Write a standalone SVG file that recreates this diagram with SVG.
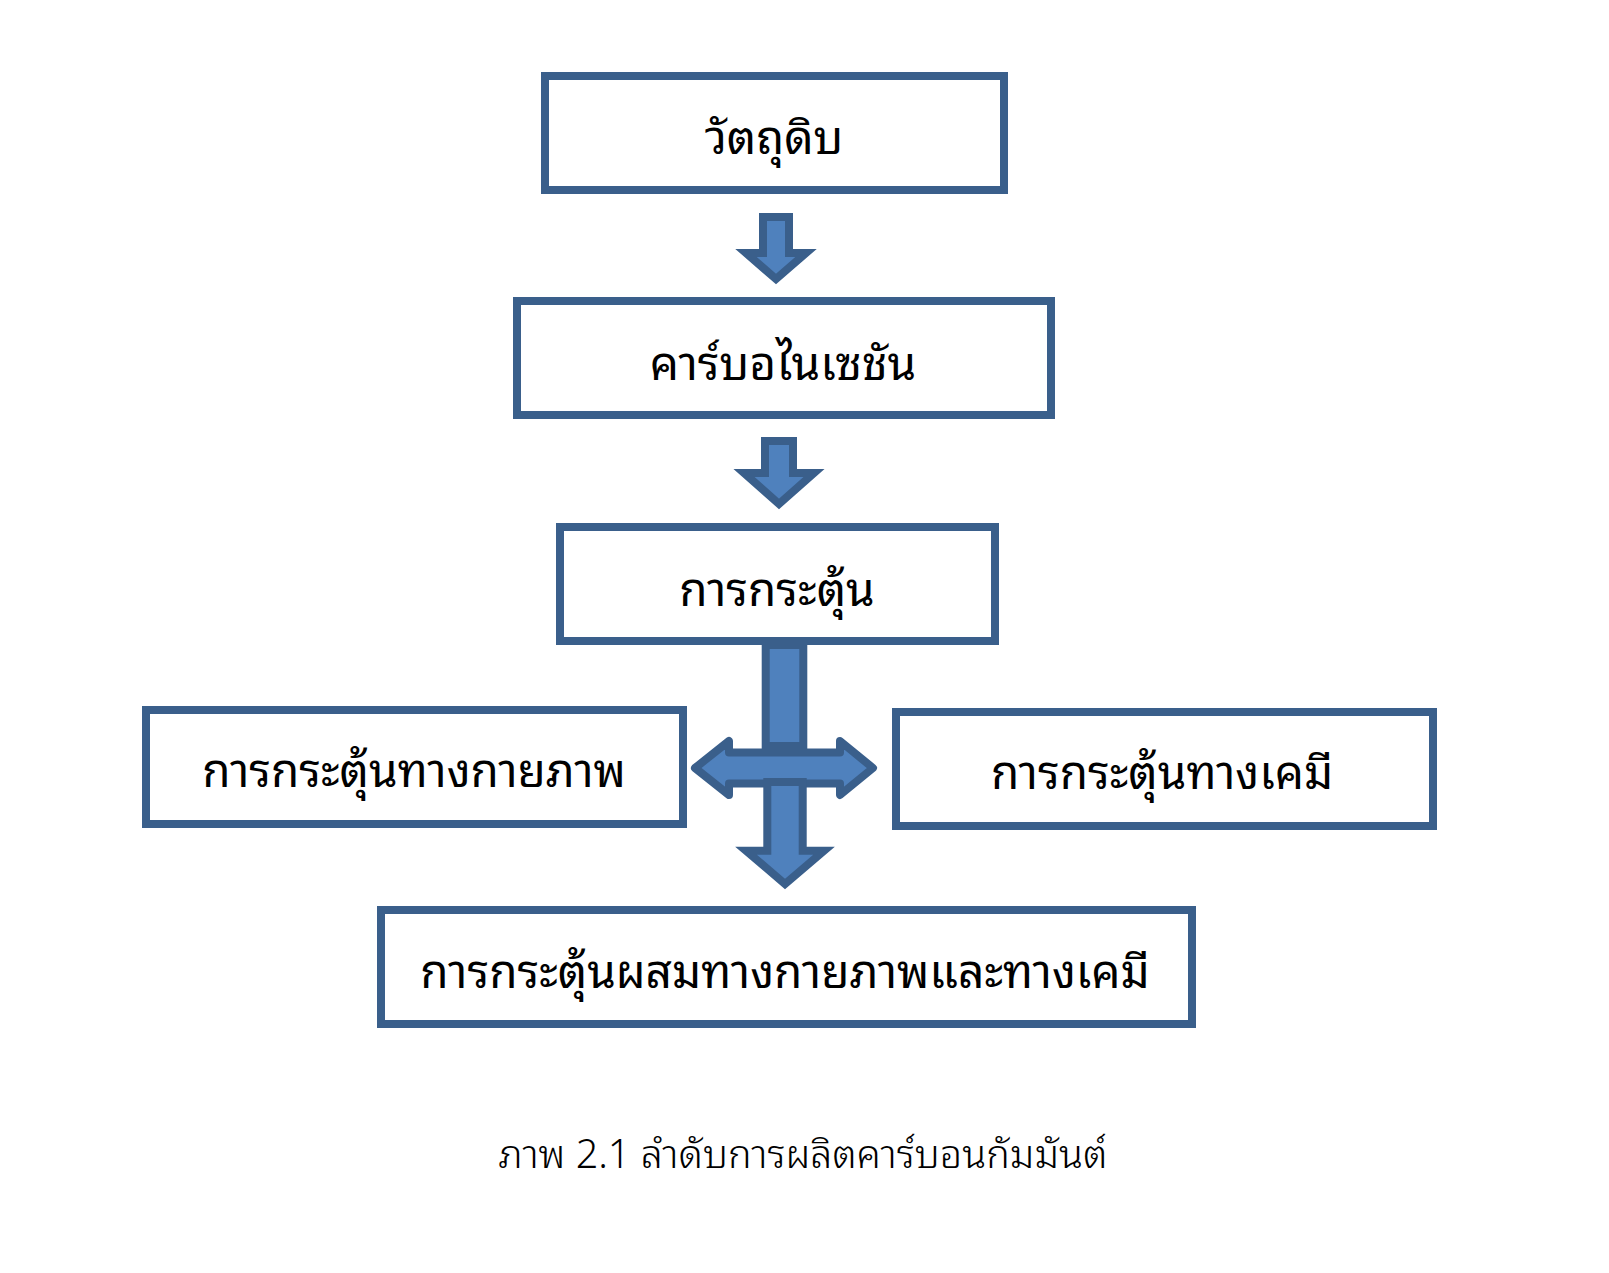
<svg xmlns="http://www.w3.org/2000/svg" width="1609" height="1273" viewBox="0 0 1609 1273">
<style>
.box{fill:#ffffff;stroke:#3A5F8B;stroke-width:8;}
.arr{fill:#4F81BD;stroke:#3A5F8B;stroke-width:8;stroke-linejoin:miter;}
.arr2{fill:#4F81BD;stroke:#3A5F8B;stroke-width:8;stroke-linejoin:round;}
.lbl{font-family:"Noto Sans Thai Looped","Noto Sans Thai","Noto Sans","DejaVu Sans",sans-serif;font-size:46px;font-weight:normal;fill:#000000;text-anchor:middle;}
.cap{font-family:"Noto Sans Thai Looped","Noto Sans Thai","Noto Sans","DejaVu Sans",sans-serif;font-size:39.5px;font-weight:300;fill:#000000;text-anchor:middle;}
</style>
<rect width="1609" height="1273" fill="#ffffff"/>
<g id="connectors">
<path class="arr" d="M763,217 L789,217 L789,253 L806,253 L776,279 L746,253 L763,253 Z"/>
<path class="arr" d="M765,441 L793,441 L793,473 L814,473 L779,504 L744,473 L765,473 Z"/>
<path class="arr2" d="M695,768 L729,741 L729,752.5 L840,752.5 L840,741 L873,768 L840,795 L840,783.5 L729,783.5 L729,795 Z"/>
<rect class="arr" x="765.7" y="645" width="37.6" height="101"/>
<path class="arr" d="M767.3,782 L802.7,782 L802.7,850.7 L824,850.7 L785,884 L746,850.7 L767.3,850.7 Z"/>
</g>
<g id="node-raw">
<rect class="box" x="545" y="76" width="459" height="114"/>
<text class="lbl" x="774" y="154">วัตถุดิบ</text>
</g>
<g id="node-carbonization">
<rect class="box" x="517" y="301" width="534" height="114"/>
<text class="lbl" x="783" y="380">คาร์บอไนเซชัน</text>
</g>
<g id="node-activation">
<rect class="box" x="560" y="527" width="435" height="114"/>
<text class="lbl" x="777" y="606">การกระตุ้น</text>
</g>
<g id="node-physical">
<rect class="box" x="146" y="710" width="537" height="114"/>
<text class="lbl" x="414" y="787">การกระตุ้นทางกายภาพ</text>
</g>
<g id="node-chemical">
<rect class="box" x="896" y="712" width="537" height="114"/>
<text class="lbl" x="1162" y="789">การกระตุ้นทางเคมี</text>
</g>
<g id="node-combined">
<rect class="box" x="381" y="910" width="811" height="114"/>
<text class="lbl" x="785" y="988">การกระตุ้นผสมทางกายภาพและทางเคมี</text>
</g>
<g id="caption">
<text class="cap" x="803" y="1168">ภาพ 2.1 ลำดับการผลิตคาร์บอนกัมมันต์</text>
</g>
</svg>
